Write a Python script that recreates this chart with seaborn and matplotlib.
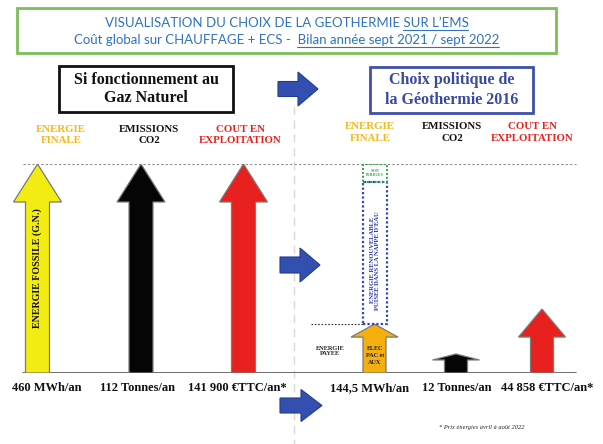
import matplotlib
matplotlib.use("Agg")
import matplotlib.pyplot as plt
import seaborn as sns
from matplotlib.patches import Rectangle, Polygon

# ---------------- data ----------------
indicators = ["ENERGIE\nFINALE", "EMISSIONS\nCO2", "COUT EN\nEXPLOITATION"]
gas_labels = ["460 MWh/an", "112 Tonnes/an", "141 900 €TTC/an*"]
geo_labels = ["144,5 MWh/an", "12 Tonnes/an", "44 858 €TTC/an*"]
# arrow heights, % of the gas reference
gas_height = [100, 100, 100]
geo_height = [23.4, 9.1, 30.6]
renewable_top = 91.4   # top of "énergie renouvelable" block (%)
lost_top = 100         # top of "non perdues" block (%)

# ---------------- style ----------------
sns.set_theme(style="white")
plt.rcParams["font.family"] = ["Liberation Serif", "DejaVu Serif"]

W, H = 603, 444
fig = plt.figure(figsize=(W / 100, H / 100), dpi=100)
fig.patch.set_facecolor("white")
renderer = fig.canvas.get_renderer()

bg = fig.add_axes([0, 0, 1, 1])
bg.set_xlim(0, W)
bg.set_ylim(H, 0)
bg.axis("off")

base_px, top_px = 373, 164
ax = fig.add_axes([0, 1 - base_px / H, 1, (base_px - top_px) / H])
ax.set_xlim(0, W)
ax.set_ylim(0, 100)
ax.axis("off")
ax.patch.set_alpha(0)
px2pct = 100 / (base_px - top_px)

gas_x = [37.5, 141, 243.5]
geo_x = [374.5, 456, 542]
gas_colors = ["#F2EC12", "#050505", "#E8201E"]
geo_colors = ["#F5B010", "#050505", "#E8201E"]
title_colors = ["#F6B71A", "#111111", "#E8201E"]
gas_head = [38, 38, 38]
geo_head = [13, 6, 28]


def arrow(cx, h, color, head_px, sw=24, hw=48):
    hl = head_px * px2pct
    xs = [cx - sw / 2, cx - sw / 2, cx - hw / 2, cx, cx + hw / 2, cx + sw / 2, cx + sw / 2]
    ys = [0, h - hl, h - hl, h, h - hl, h - hl, 0]
    ax.fill(xs, ys, color=color, ec="#7a7a7a", lw=0.9, zorder=3)


for cx, h, c, hp in zip(gas_x, gas_height, gas_colors, gas_head):
    arrow(cx, h, c, hp)
for cx, h, c, hp in zip(geo_x, geo_height, geo_colors, geo_head):
    arrow(cx, h, c, hp, sw=23, hw=47)

# reference lines
ax.plot([23, 576], [0, 0], color="#555555", lw=1.2, zorder=2)
ax.plot([23, 576], [100, 100], color="#8a8a8a", lw=0.8, ls=(0, (2, 2)), zorder=2)
ax.plot([311, 363], [geo_height[0], geo_height[0]], color="#333333", lw=0.8,
        ls=(0, (1.5, 1.5)), zorder=2)

# renewable / non-lost blocks
ax.add_patch(Rectangle((363, geo_height[0]), 24, renewable_top - geo_height[0],
                       fill=False, ec="#3242C0", lw=1.6, ls=(0, (1, 1)), zorder=3))
ax.add_patch(Rectangle((363, renewable_top), 24, lost_top - renewable_top,
                       fill=False, ec="#2FA548", lw=1.4, ls=(0, (1, 1)), zorder=3))
ax.text(375, 54, "ENERGIE RENOUVELABLE\nPUISEE DANS LA NAPPE D'EAU", rotation=90,
        ha="center", va="center", fontsize=4.8, fontweight="bold", color="#2A3AA8",
        linespacing=1.1, zorder=4)
ax.text(375, (renewable_top + lost_top) / 2, "NON\nPERDUES", ha="center", va="center",
        fontsize=2.8, fontweight="bold", color="#2FA548", linespacing=1.0, zorder=4)
ax.text(37.5, 50, "ENERGIE FOSSILE (G.N.)", rotation=90, ha="center", va="center",
        fontsize=7.2, fontweight="bold", color="#111111", zorder=4)
ax.text(375, 8.5, "ELEC\nPAC et\nAUX", ha="center", va="center", fontsize=4.4,
        fontweight="bold", color="#222222", linespacing=1.5, zorder=4)
ax.text(330, 10.5, "ENERGIE\nPAYEE", ha="center", va="center", fontsize=4.6,
        fontweight="bold", color="#222222", linespacing=1.2, zorder=4)

# vertical separator
bg.plot([294, 294], [106, 444], color="#d8d8d8", lw=1.0, ls=(0, (6, 4)), zorder=1)

# title box
bg.add_patch(Rectangle((17, 8), 539, 45, fill=False, ec="#7DBE5A", lw=2.0))
title_font = ["Lato", "DejaVu Sans"]
title_color = "#2F73C0"
title_lines = [("VISUALISATION DU CHOIX DE LA GEOTHERMIE ", "SUR L’EMS", 23),
               ("Coût global sur CHAUFFAGE + ECS -  ", "Bilan année sept 2021 / sept 2022", 40)]


def text_width_px(s):
    t = bg.text(0, 0, s, fontsize=9.5, family=title_font)
    w = t.get_window_extent(renderer=renderer).width
    t.remove()
    return w


for plain, under, y in title_lines:
    full = plain + under
    wf = text_width_px(full)
    wp = text_width_px(plain + "x") - text_width_px("x")
    wu = text_width_px(under)
    x0 = 286.5 - wf / 2
    bg.text(x0, y, full, ha="left", va="center", fontsize=9.5, color=title_color,
            family=title_font)
    bg.plot([x0 + wp, x0 + wp + wu], [y + 7.5, y + 7.5], color=title_color, lw=0.8)

# section boxes
bg.add_patch(Rectangle((59, 66), 174, 46, fill=False, ec="#111111", lw=2.0))
bg.text(146, 89, "Si fonctionnement au\nGaz Naturel", ha="center", va="center",
        fontsize=11.5, fontweight="bold", color="#111111", linespacing=1.25)
bg.add_patch(Rectangle((370, 67), 163, 46, fill=False, ec="#4050A8", lw=2.0))
bg.text(451.5, 90, "Choix politique de\nla Géothermie 2016", ha="center", va="center",
        fontsize=11.5, fontweight="bold", color="#3A4A9E", linespacing=1.25)


# blue transition arrows
def block_arrow(x0, yc, x_head, x_tip, sh, hh):
    pts = [(x0, yc - sh), (x_head, yc - sh), (x_head, yc - hh), (x_tip, yc),
           (x_head, yc + hh), (x_head, yc + sh), (x0, yc + sh)]
    bg.add_patch(Polygon(pts, closed=True, fc="#3350B0", ec="#243C8C", lw=0.8, zorder=5))


block_arrow(278, 89, 298, 318, 7.5, 17)
block_arrow(280, 265, 300, 320, 8, 17)
block_arrow(280, 405.5, 301, 322, 7.5, 16)

# indicator headings
gas_head_x = [61, 149, 240]
geo_head_x = [370, 452, 532]
for x, lab, c in zip(gas_head_x, indicators, title_colors):
    bg.text(x, 135, lab, ha="center", va="center", fontsize=7.8, fontweight="bold",
            color=c, linespacing=1.35)
for x, lab, c in zip(geo_head_x, indicators, title_colors):
    bg.text(x, 132.5, lab, ha="center", va="center", fontsize=7.8, fontweight="bold",
            color=c, linespacing=1.35)

# value labels
gas_lab_x = [47, 137, 237]
geo_lab_x = [369, 457, 547]
for x, lab in zip(gas_lab_x, gas_labels):
    bg.text(x, 388, lab, ha="center", va="center", fontsize=9, fontweight="bold",
            color="#111111")
for x, lab in zip(geo_lab_x, geo_labels):
    bg.text(x, 388, lab, ha="center", va="center", fontsize=9, fontweight="bold",
            color="#111111")

bg.text(482, 427, "* Prix énergies avril à août 2022", ha="center", va="center",
        fontsize=4.6, style="italic", color="#222222")

fig.savefig("out.png", dpi=100, facecolor="white")
